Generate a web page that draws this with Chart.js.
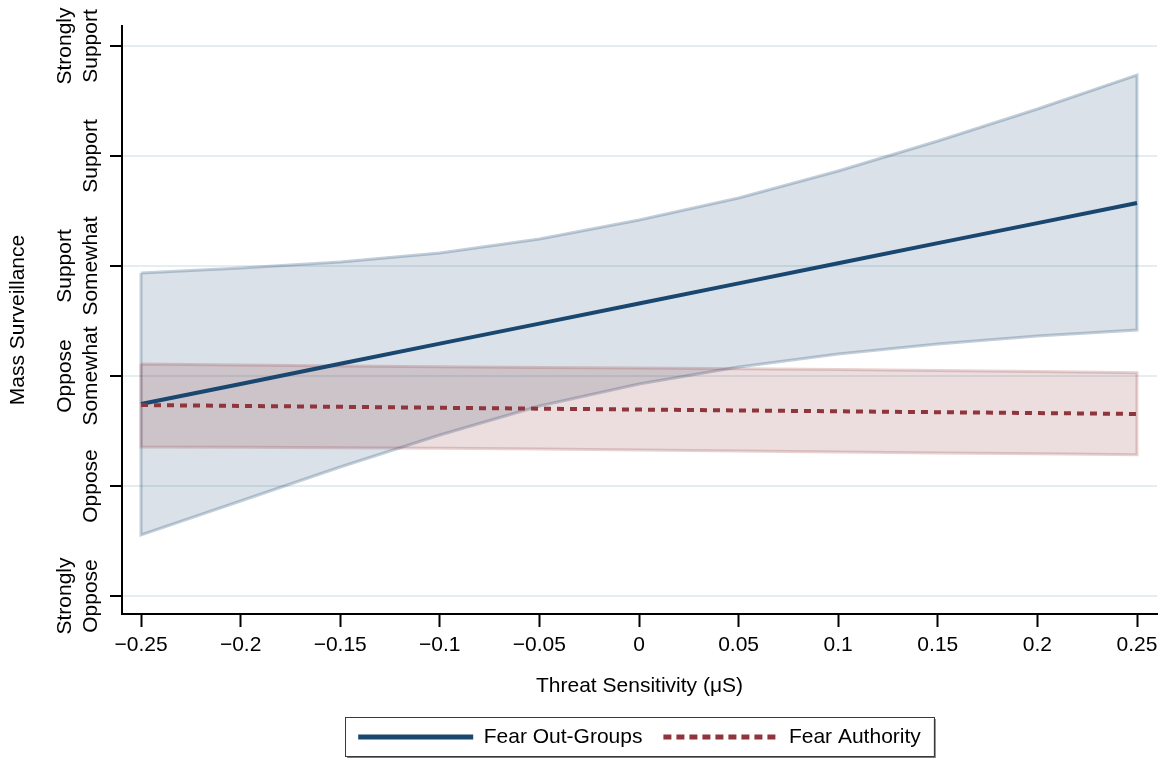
<!DOCTYPE html>
<html><head><meta charset="utf-8">
<script src="https://cdn.jsdelivr.net/npm/chart.js@4.4.1/dist/chart.umd.min.js"></script>
<style>html,body{margin:0;padding:0;background:#fff;}#wrap{width:1165px;height:759px;}</style>
</head><body><div id="wrap"><canvas id="c" width="1165" height="759"></canvas></div>
<script>
const xValues = [-0.25, -0.2, -0.15, -0.1, -0.05, 0, 0.05, 0.1, 0.15, 0.2, 0.25];
const xTickLabels = ['\u22120.25', '\u22120.2', '\u22120.15', '\u22120.1', '\u22120.05', '0', '0.05', '0.1', '0.15', '0.2', '0.25'];
const yTickValues = [1, 2, 3, 4, 5, 6];
const yTickLabels = [['Strongly', 'Oppose'], ['Oppose'], ['Oppose', 'Somewhat'], ['Support', 'Somewhat'], ['Support'], ['Strongly', 'Support']];
const seriesNames = ['Fear Out-Groups', 'Fear Authority'];

const outGroupMean  = [2.745, 2.928, 3.111, 3.294, 3.476, 3.659, 3.842, 4.025, 4.208, 4.390, 4.573];
const outGroupUpper = [3.936, 3.982, 4.036, 4.118, 4.245, 4.418, 4.618, 4.864, 5.136, 5.427, 5.736];
const outGroupLower = [1.555, 1.864, 2.173, 2.464, 2.727, 2.927, 3.082, 3.200, 3.291, 3.364, 3.418];

const authorityMean  = [2.736, 2.728, 2.720, 2.711, 2.703, 2.695, 2.687, 2.679, 2.671, 2.663, 2.655];
const authorityUpper = [3.109, 3.100, 3.092, 3.085, 3.078, 3.072, 3.065, 3.058, 3.050, 3.041, 3.030];
const authorityLower = [2.355, 2.352, 2.348, 2.343, 2.336, 2.328, 2.319, 2.310, 2.301, 2.293, 2.285];

const BLUE = '#1a476f';
const RED = '#90353b';
const FONT = '"Liberation Sans", Arial, Helvetica, sans-serif';

const pts = (ys) => xValues.map((x, i) => ({x: x, y: ys[i]}));
const outline = (up, lo) => {
  const a = xValues.map((x, i) => ({x: x, y: up[i]}));
  const b = xValues.map((x, i) => ({x: x, y: lo[i]})).reverse();
  return a.concat(b, [{x: xValues[0], y: up[0]}]);
};

const base = {pointRadius: 0, pointHoverRadius: 0, tension: 0};

const datasets = [
  Object.assign({}, base, {label: seriesNames[0], legend: true, data: pts(outGroupMean), borderColor: BLUE, backgroundColor: BLUE, borderWidth: 4, fill: false, order: 2, legendDash: []}),
  Object.assign({}, base, {label: seriesNames[1], legend: true, data: pts(authorityMean), borderColor: RED, backgroundColor: RED, borderWidth: 4, borderDash: [7, 6], fill: false, order: 1, legendDash: [8, 5]}),
  Object.assign({}, base, {label: 'og_up', data: pts(outGroupUpper), borderWidth: 0, borderColor: 'rgba(0,0,0,0)', fill: false, order: 20}),
  Object.assign({}, base, {label: 'og_lo', data: pts(outGroupLower), borderWidth: 0, borderColor: 'rgba(0,0,0,0)', fill: '-1', backgroundColor: 'rgba(26,71,111,0.16)', order: 19}),
  Object.assign({}, base, {label: 'og_outline', data: outline(outGroupUpper, outGroupLower), borderWidth: 3, borderColor: 'rgba(26,71,111,0.26)', borderJoinStyle: 'miter', fill: false, order: 18}),
  Object.assign({}, base, {label: 'au_up', data: pts(authorityUpper), borderWidth: 0, borderColor: 'rgba(0,0,0,0)', fill: false, order: 17}),
  Object.assign({}, base, {label: 'au_lo', data: pts(authorityLower), borderWidth: 0, borderColor: 'rgba(0,0,0,0)', fill: '-1', backgroundColor: 'rgba(144,53,59,0.17)', order: 16}),
  Object.assign({}, base, {label: 'au_outline', data: outline(authorityUpper, authorityLower), borderWidth: 3, borderColor: 'rgba(144,53,59,0.22)', borderJoinStyle: 'miter', fill: false, order: 15})
];

const yLabelPlugin = {
  id: 'yLabels',
  afterDraw(chart) {
    const ys = chart.scales.y;
    const ctx = chart.ctx;
    ctx.save();
    ctx.font = '21px ' + FONT;
    ctx.fillStyle = '#000';
    ctx.textAlign = 'center';
    ctx.textBaseline = 'middle';
    yTickValues.forEach((v, i) => {
      const py = ys.getPixelForValue(v);
      const lines = yTickLabels[i];
      lines.forEach((t, j) => {
        const px = ys.right - 31 - 26 * (lines.length - 1 - j);
        ctx.save();
        ctx.translate(px, py);
        ctx.rotate(-Math.PI / 2);
        ctx.fillText(t, 0, 0);
        ctx.restore();
      });
    });
    ctx.restore();
  }
};

const legendFramePlugin = {
  id: 'legendFrame',
  afterDraw(chart) {
    const lg = chart.legend;
    if (!lg || !lg.legendHitBoxes || !lg.legendHitBoxes.length) return;
    const hb = lg.legendHitBoxes;
    const first = hb[0], last = hb[hb.length - 1];
    const left = first.left - 13;
    const right = last.left + last.width + 13;
    const cy = first.top + first.height / 2;
    const top = cy - 20, bottom = cy + 19;
    const ctx = chart.ctx;
    ctx.save();
    ctx.strokeStyle = '#7a7a7a';
    ctx.lineWidth = 2;
    ctx.beginPath();
    ctx.moveTo(left + 2, bottom + 1);
    ctx.lineTo(right + 1, bottom + 1);
    ctx.lineTo(right + 1, top + 2);
    ctx.stroke();
    ctx.strokeStyle = '#3a3a3a';
    ctx.lineWidth = 1;
    ctx.strokeRect(Math.round(left) + 0.5, Math.round(top) + 0.5, Math.round(right - left), Math.round(bottom - top));
    ctx.restore();
  }
};

new Chart(document.getElementById('c'), {
  type: 'line',
  data: {datasets: datasets},
  plugins: [yLabelPlugin, legendFramePlugin],
  options: {
    responsive: false,
    devicePixelRatio: 1,
    animation: false,
    events: [],
    layout: {padding: {left: 0, right: 8, top: 26, bottom: 1.5}},
    scales: {
      x: {
        type: 'linear',
        min: -0.25954,
        max: 0.26004,
        afterBuildTicks: (s) => { s.ticks = xValues.map(v => ({value: v})); },
        afterFit: (s) => { s.height = 91.5; },
        ticks: {
          autoSkip: false, maxRotation: 0, minRotation: 0,
          color: '#000', padding: 6,
          font: {family: FONT, size: 21},
          callback: (v, i) => xTickLabels[i]
        },
        grid: {drawOnChartArea: false, drawTicks: true, tickLength: 13, tickWidth: 2, tickColor: '#000'},
        border: {display: true, color: '#000', width: 2},
        title: {display: true, text: 'Threat Sensitivity (\u03bcS)', color: '#000', font: {family: FONT, size: 21}, padding: {top: 4, bottom: 6.4}}
      },
      y: {
        type: 'linear',
        min: 0.8364,
        max: 6.1818,
        afterBuildTicks: (s) => { s.ticks = yTickValues.map(v => ({value: v})); },
        afterFit: (s) => { s.width = 122; },
        ticks: {display: false},
        grid: {color: '#e4eef0', lineWidth: 2, drawTicks: true, tickLength: 12, tickWidth: 2, tickColor: '#000'},
        border: {display: true, color: '#000', width: 2},
        title: {display: true, text: 'Mass Surveillance', color: '#000', font: {family: FONT, size: 21}, padding: {top: 5.4, bottom: 0}}
      }
    },
    plugins: {
      tooltip: {enabled: false},
      legend: {
        display: true,
        position: 'bottom',
        fullSize: false,
        labels: {
          usePointStyle: true,
          pointStyleWidth: 115,
          padding: 21,
          color: '#000',
          font: {family: FONT, size: 21},
          generateLabels: (chart) => chart.data.datasets
            .map((d, i) => ({d, i}))
            .filter(o => o.d.legend)
            .map(o => ({
              text: o.d.label,
              fillStyle: o.d.borderColor,
              strokeStyle: o.d.borderColor,
              lineWidth: 5,
              lineDash: o.d.legendDash,
              lineCap: 'butt',
              pointStyle: 'line',
              hidden: false,
              datasetIndex: o.i,
              fontColor: '#000'
            }))
        }
      }
    }
  }
});
</script>
</body></html>
